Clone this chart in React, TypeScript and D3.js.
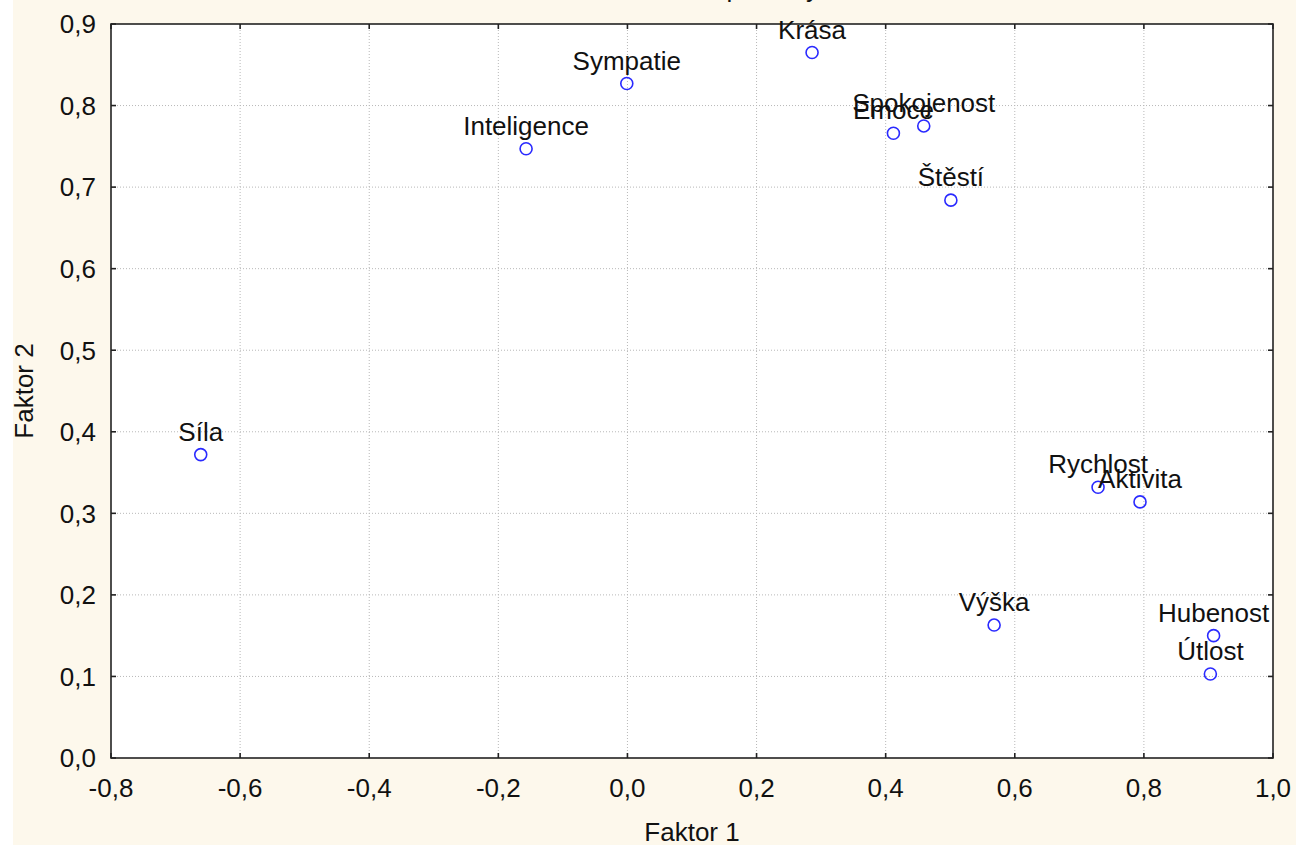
import React from "react";
import * as d3 from "d3";

const labels = ["Síla", "Inteligence", "Sympatie", "Krása", "Emoce", "Spokojenost", "Štěstí", "Rychlost", "Aktivita", "Výška", "Hubenost", "Útlost"];
const factor1 = [-0.661, -0.157, -0.001, 0.286, 0.412, 0.459, 0.501, 0.729, 0.794, 0.568, 0.908, 0.903];
const factor2 = [0.372, 0.747, 0.827, 0.865, 0.766, 0.775, 0.684, 0.332, 0.314, 0.163, 0.150, 0.103];
const xTicks = [-0.8, -0.6, -0.4, -0.2, 0.0, 0.2, 0.4, 0.6, 0.8, 1.0];
const yTicks = [0.0, 0.1, 0.2, 0.3, 0.4, 0.5, 0.6, 0.7, 0.8, 0.9];
const titleText = "Extrakce: Hlavní komponenty";
const xTitle = "Faktor 1";
const yTitle = "Faktor 2";

const W = 1296;
const H = 846;
const M = { left: 111, right: 1273, top: 24, bottom: 758 };
const FONT = "'Liberation Sans', Arial, sans-serif";
const FS = 26;
const fmt = (v: number) => v.toFixed(1).replace(".", ",");

export default function App() {
  const x = d3.scaleLinear().domain([-0.8, 1.0]).range([M.left, M.right]);
  const y = d3.scaleLinear().domain([0, 0.9]).range([M.bottom, M.top]);
  const tickLen = 5;
  const data = labels.map((l, i) => ({ l, fx: factor1[i], fy: factor2[i] }));
  return (
    <svg width={W} height={H} style={{ position: "absolute", left: 0, top: 0 }} fontFamily={FONT}>
      <rect x={0} y={0} width={W} height={H} fill="#ffffff" />
      <rect x={13} y={0} width={W - 13} height={845} fill="#fdf8ec" />
      <text x={650} y={-3} textAnchor="middle" fontSize={FS} fill="#111">{titleText}</text>
      <rect x={M.left} y={M.top} width={M.right - M.left} height={M.bottom - M.top} fill="#ffffff" />
      {xTicks.slice(1, -1).map((t) => (
        <line key={"gx" + t} x1={x(t)} x2={x(t)} y1={M.top} y2={M.bottom} stroke="#b8b8b8" strokeWidth={1} strokeDasharray="1,2" />
      ))}
      {yTicks.slice(1, -1).map((t) => (
        <line key={"gy" + t} x1={M.left} x2={M.right} y1={y(t)} y2={y(t)} stroke="#b8b8b8" strokeWidth={1} strokeDasharray="1,2" />
      ))}
      <rect x={M.left} y={M.top} width={M.right - M.left} height={M.bottom - M.top} fill="none" stroke="#222" strokeWidth={1.6} />
      {xTicks.map((t) => (
        <g key={"tx" + t}>
          <line x1={x(t)} x2={x(t)} y1={M.bottom} y2={M.bottom - tickLen} stroke="#222" strokeWidth={1.6} />
          <line x1={x(t)} x2={x(t)} y1={M.top} y2={M.top + tickLen} stroke="#222" strokeWidth={1.6} />
          <text x={x(t)} y={M.bottom + 39} textAnchor="middle" fontSize={FS} fill="#111">{fmt(t)}</text>
        </g>
      ))}
      {yTicks.map((t) => (
        <g key={"ty" + t}>
          <line x1={M.left} x2={M.left + tickLen} y1={y(t)} y2={y(t)} stroke="#222" strokeWidth={1.6} />
          <line x1={M.right} x2={M.right - tickLen} y1={y(t)} y2={y(t)} stroke="#222" strokeWidth={1.6} />
          <text x={96} y={y(t)} dy="0.36em" textAnchor="end" fontSize={FS} fill="#111">{fmt(t)}</text>
        </g>
      ))}
      <text x={(M.left + M.right) / 2} y={841} textAnchor="middle" fontSize={FS} fill="#111">{xTitle}</text>
      <text transform={`translate(33,${(M.top + M.bottom) / 2}) rotate(-90)`} textAnchor="middle" fontSize={FS} fill="#111">{yTitle}</text>
      {data.map((d) => (
        <g key={d.l}>
          <circle cx={x(d.fx)} cy={y(d.fy)} r={6} fill="none" stroke="#2a2aff" strokeWidth={1.6} />
          <text x={x(d.fx)} y={y(d.fy) - 14} textAnchor="middle" fontSize={FS} fill="#111">{d.l}</text>
        </g>
      ))}
    </svg>
  );
}
